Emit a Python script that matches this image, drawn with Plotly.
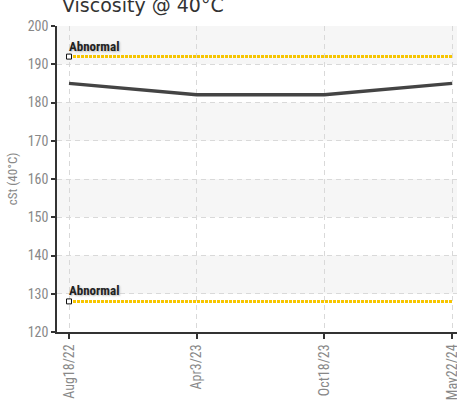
import plotly.graph_objects as go

# ---- data ----
dates = ["Aug18/22", "Apr3/23", "Oct18/23", "May22/24"]
viscosity = [185, 182, 182, 185]
abnormal_high = 192
abnormal_low = 128
y_ticks = [120, 130, 140, 150, 160, 170, 180, 190, 200]
title_text = "Viscosity @ 40°C"
y_title = "cSt (40°C)"
limit_label = "Abnormal"

TICK_FONT = "Roboto Condensed, Liberation Sans Narrow, Roboto, sans-serif"
YELLOW = "#f7c500"

fig = go.Figure()

# limit lines
for lvl in (abnormal_high, abnormal_low):
    fig.add_trace(go.Scatter(
        x=dates, y=[lvl] * len(dates), mode="lines",
        line=dict(color=YELLOW, width=3, dash="3px,1px"),
        hoverinfo="skip", showlegend=False))
    fig.add_trace(go.Scatter(
        x=[dates[0]], y=[lvl], mode="markers",
        marker=dict(symbol="square", size=5, color="white",
                    line=dict(color="#111", width=1)),
        hoverinfo="skip", showlegend=False))
    fig.add_annotation(
        x=dates[0], y=lvl, xref="x", yref="y", text=limit_label,
        showarrow=False, xanchor="left", yanchor="bottom",
        xshift=-2, yshift=1,
        font=dict(family=TICK_FONT, size=13, color="#222", weight="bold",
                  shadow="1px 1px 2px #bbb"))

# data line
fig.add_trace(go.Scatter(
    x=dates, y=viscosity, mode="lines",
    line=dict(color="#444", width=3.5),
    showlegend=False))

# alternating background bands
for i in range(len(y_ticks) - 1):
    if i % 2 == 1:
        fig.add_shape(type="rect", xref="paper", yref="y",
                      x0=0, x1=1, y0=y_ticks[i], y1=y_ticks[i + 1],
                      fillcolor="#f6f6f6", line=dict(width=0), layer="below")

# title
fig.add_annotation(
    x=0.0075, y=1.027, xref="paper", yref="paper", text=title_text,
    showarrow=False, xanchor="left", yanchor="bottom",
    font=dict(family="DejaVu Sans, Verdana, sans-serif", size=19, color="#333"))

fig.update_layout(
    width=457, height=410,
    margin=dict(l=57, r=0, t=26, b=78, autoexpand=False),
    paper_bgcolor="white", plot_bgcolor="white",
    showlegend=False,
    xaxis=dict(
        type="category", categoryorder="array", categoryarray=dates,
        range=[-0.094, 3.039], automargin=False,
        showgrid=True, gridcolor="#d9d9d9", griddash="5px,4px", gridwidth=1,
        showline=True, linecolor="#333", linewidth=1.5,
        ticks="outside", ticklen=5, tickcolor="#333", tickwidth=1.5,
        tickangle=-90, ticklabeloverflow="allow",
        tickfont=dict(family=TICK_FONT, size=14, color="#888"),
        zeroline=False),
    yaxis=dict(
        range=[120, 200], tickvals=y_ticks, automargin=False,
        showgrid=True, gridcolor="#d9d9d9", griddash="5px,4px", gridwidth=1,
        showline=True, linecolor="#333", linewidth=1.5,
        ticks="outside", ticklen=4, tickcolor="#333", tickwidth=1.5,
        tickfont=dict(family=TICK_FONT, size=14, color="#888"),
        title=dict(text=y_title, standoff=7,
                   font=dict(family=TICK_FONT, size=13, color="#888")),
        zeroline=False),
)

fig.write_html("out.html", config={"displayModeBar": False},
               post_script="document.body.style.margin='0';document.body.style.overflow='hidden';")
